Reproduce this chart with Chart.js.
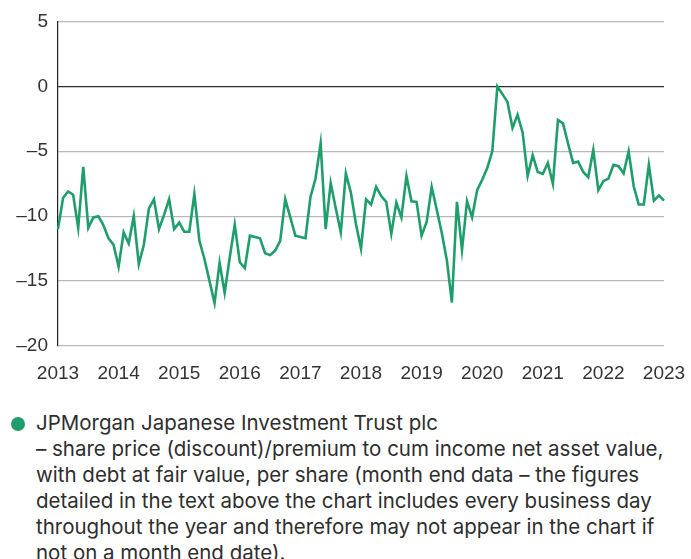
<!DOCTYPE html>
<html>
<head>
<meta charset="utf-8">
<script src="https://cdn.jsdelivr.net/npm/chart.js@4"></script>
<style>
  html, body { margin: 0; padding: 0; background: #fff; }
  body { width: 691px; height: 559px; overflow: hidden; position: relative; font-family: "Liberation Sans", Arial, sans-serif; }
  #chart-wrap { position: absolute; left: 0; top: 0; width: 691px; height: 395px; }
  #legend { position: absolute; left: 36px; top: 410px; width: 655px; font-family: Inter, "Liberation Sans", sans-serif; font-size: 20.5px; line-height: 26px; color: #2e2e2e; white-space: nowrap; }
  #legend .dot { position: absolute; left: -25px; top: 7px; width: 14px; height: 14px; border-radius: 50%; background: #1f9e6c; }
</style>
</head>
<body>
<div id="chart-wrap"><canvas id="discountChart"></canvas></div>
<div id="legend">
  <span class="dot"></span>
  JPMorgan Japanese Investment Trust plc<br>
  – share price (discount)/premium to cum income net asset value,<br>
  with debt at fair value, per share (month end data – the figures<br>
  detailed in the text above the chart includes every business day<br>
  throughout the year and therefore may not appear in the chart if<br>
  not on a month end date).
</div>
<script>
// Month-end (discount)/premium, Jan 2013 .. Jan 2023
const years = ['2013', '2014', '2015', '2016', '2017', '2018', '2019', '2020', '2021', '2022', '2023'];
const yTicks = [5, 0, -5, -10, -15, -20];
const premium = [
    -11.0, -8.6, -8.1, -8.35, -10.9, -6.2, -10.9, -10.1, -10.0, -10.7, -11.7, -12.2,   // 2013
    -13.9, -11.25, -12.1, -10.0, -13.7, -12.2, -9.4, -8.7, -11.0, -9.9, -8.7, -11.0,   // 2014
    -10.5, -11.2, -11.2, -8.3, -11.9, -13.3, -15.0, -16.7, -13.6, -15.9, -13.2, -10.65, // 2015
    -13.55, -14.0, -11.5, -11.6, -11.7, -12.85, -13.0, -12.65, -11.9, -8.7, -10.1, -11.5, // 2016
    -11.6, -11.7, -8.5, -7.1, -4.4, -11.0, -7.45, -9.4, -11.25, -6.7, -8.2, -10.6,     // 2017
    -12.5, -8.7, -9.1, -7.75, -8.45, -8.9, -11.35, -8.95, -10.1, -6.9, -8.85, -8.9,   // 2018
    -11.5, -10.45, -7.75, -9.5, -11.3, -13.4, -16.65, -8.9, -12.6, -8.85, -10.1, -8.0, // 2019
    -7.2, -6.3, -5.0, 0.0, -0.6, -1.2, -3.2, -2.2, -3.55, -6.9, -5.3, -6.6,           // 2020
    -6.75, -5.9, -7.5, -2.6, -2.85, -4.4, -5.9, -5.8, -6.6, -7.0, -4.9, -8.0,         // 2021
    -7.3, -7.1, -6.05, -6.15, -6.7, -5.0, -7.7, -9.1, -9.1, -6.05, -8.8, -8.4,        // 2022
    -8.8                                                                               // 2023
];

// one category per month end
const months = premium.map((v, i) => years[0] * 1 + Math.floor(i / 12) + '-' + String(i % 12 + 1).padStart(2, '0'));

const GREEN = '#1f9e6c';
const TEXT = '#333333';
const tickFont = { family: '"Liberation Sans", Arial, sans-serif', size: 19 };

document.addEventListener('DOMContentLoaded', () => {
    const ctx = document.getElementById('discountChart');
    new Chart(ctx, {
        type: 'line',
        data: {
            labels: months,
            datasets: [{
                label: 'JPMorgan Japanese Investment Trust plc',
                data: premium,
                borderColor: GREEN,
                borderWidth: 2.6,
                pointRadius: 0,
                tension: 0,
                fill: false
            }]
        },
        options: {
            responsive: true,
            maintainAspectRatio: false,
            animation: false,
            layout: { padding: { top: 21, right: 27, left: 0, bottom: 0 } },
            plugins: {
                legend: { display: false },
                tooltip: { enabled: false }
            },
            scales: {
                x: {
                    type: 'category',
                    offset: false,
                    grid: { display: false, drawTicks: false },
                    border: { display: false },
                    afterFit: (scale) => {
                        scale.height = 49;
                        // let the end labels hang over the plot edges
                        scale.paddingLeft = 0;
                        scale.paddingRight = 0;
                    },
                    ticks: {
                        autoSkip: false,
                        maxRotation: 0,
                        padding: 16,
                        color: TEXT,
                        font: tickFont,
                        callback: (val, i) => (i % 12 === 0 ? years[i / 12] : null)
                    }
                },
                y: {
                    min: -20,
                    max: 5,
                    afterFit: (scale) => { scale.width = 58; },
                    afterBuildTicks: (scale) => {
                        scale.ticks = yTicks.map(v => ({ value: v }));
                    },
                    border: { display: true, color: '#222', width: 1.2 },
                    grid: {
                        drawTicks: false,
                        lineWidth: 1.2,
                        color: (c) => (c.tick && c.tick.value === 0 ? '#2b2b2b' : '#b8b8b8')
                    },
                    ticks: {
                        padding: 10,
                        color: TEXT,
                        font: tickFont,
                        callback: (v) => (v < 0 ? '\u2013' + Math.abs(v) : String(v))
                    }
                }
            }
        }
    });
});
</script>
</body>
</html>
